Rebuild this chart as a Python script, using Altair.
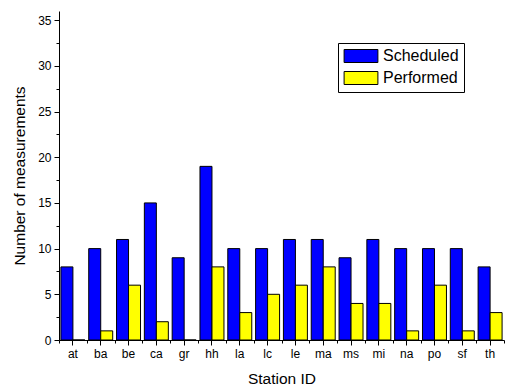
import altair as alt
import pandas as pd

stations = ["at", "ba", "be", "ca", "gr", "hh", "la", "lc", "le", "ma", "ms", "mi", "na", "po", "sf", "th"]
scheduled = [8, 10, 11, 15, 9, 19, 10, 10, 11, 11, 9, 11, 10, 10, 10, 8]
performed = [0, 1, 6, 2, 0, 8, 3, 5, 6, 8, 4, 4, 1, 6, 1, 3]
series = ["Scheduled", "Performed"]
colors = ["#0000ff", "#ffff00"]
y_ticks = [0, 2.5, 5, 7.5, 10, 12.5, 15, 17.5, 20, 22.5, 25, 27.5, 30, 32.5, 35]

rows = []
for s, a, b in zip(stations, scheduled, performed):
    rows.append({"station": s, "series": series[0], "value": a})
    rows.append({"station": s, "series": series[1], "value": b})
df = pd.DataFrame(rows)

FONT = "Liberation Sans"

xscale = alt.Scale(domain=stations, paddingInner=0, paddingOuter=0)

bars = alt.Chart(df).mark_bar(stroke="black", strokeWidth=1).encode(
    x=alt.X("station:N", scale=xscale,
            axis=alt.Axis(title="Station ID", tickSize=5, labelPadding=3,
                          titlePadding=12, labelAngle=0)),
    xOffset=alt.XOffset("series:N", sort=series,
                        scale=alt.Scale(domain=series, paddingOuter=0.16, paddingInner=0)),
    y=alt.Y("value:Q", scale=alt.Scale(domain=[0, 36], nice=False),
            axis=alt.Axis(title="Number of measurements", values=y_ticks,
                          tickSize={"condition": {"test": "datum.value % 5 === 0", "value": 5}, "value": 3},
                          labelExpr="datum.value % 5 === 0 ? datum.label : ''",
                          labelPadding=3, titlePadding=10)),
    color=alt.Color("series:N", sort=series,
                    scale=alt.Scale(domain=series, range=colors),
                    legend=alt.Legend(title=None, orient="none", legendX=279, legendY=32,
                                      strokeColor="black", fillColor="white", padding=5,
                                      symbolType="M-2.6,-1H2.6V1H-2.6Z", symbolSize=169,
                                      symbolStrokeColor="black", symbolStrokeWidth=1,
                                      symbolOffset=10, labelOffset=14,
                                      labelFont=FONT, labelFontSize=16, labelColor="black",
                                      rowPadding=4)),
)

minor = alt.Chart(df).mark_rule(opacity=0).encode(
    x=alt.X("station:N", scale=xscale,
            axis=alt.Axis(orient="bottom", tickBand="extent", labels=False, domain=False,
                          tickSize=3, title=None, grid=False)),
)

chart = alt.layer(bars, minor).resolve_axis(x="independent").properties(
    width=445, height=329, autosize="none",
    padding={"left": 59, "top": 11, "right": 2, "bottom": 47},
).configure_view(stroke=None).configure_axis(
    grid=False, domainColor="black", tickColor="black", labelColor="black",
    titleColor="black", labelFont=FONT, titleFont=FONT, labelFontSize=12,
    titleFontSize=15.5, titleFontWeight="normal", domainWidth=1, tickWidth=1,
)

chart.save("out.html", embed_options={"renderer": "svg", "actions": False})
